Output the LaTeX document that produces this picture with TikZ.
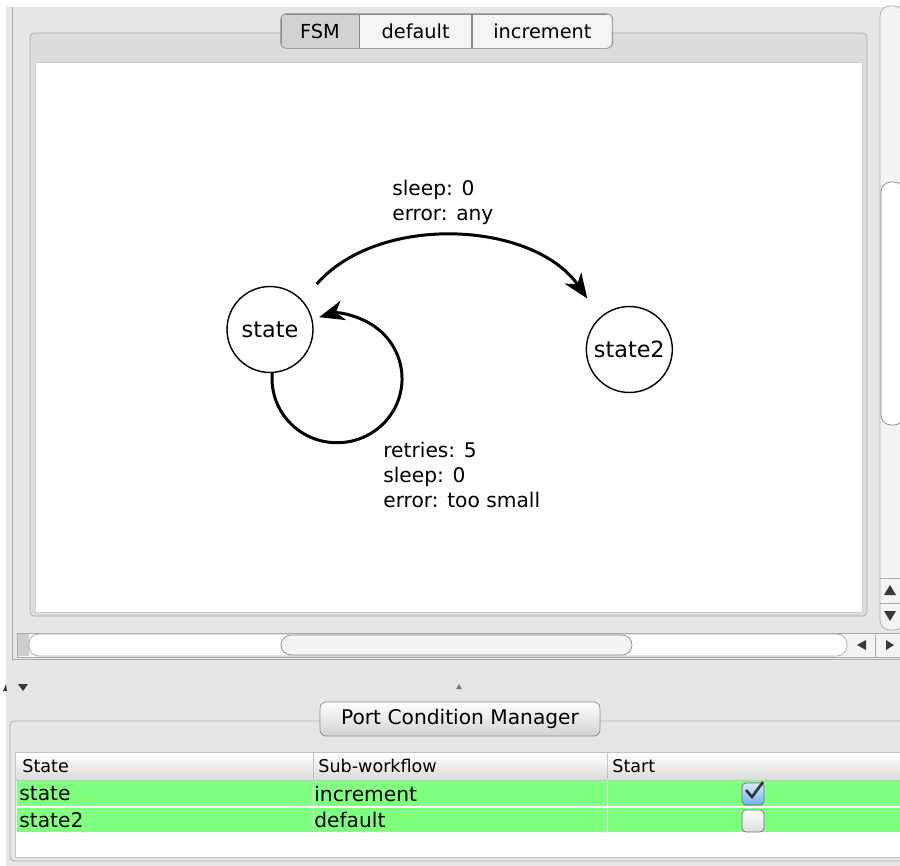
\documentclass[tikz,border=0pt]{standalone}
\usepackage{fontspec}
\setmainfont{DejaVu Sans}
\usetikzlibrary{arrows.meta,positioning,calc}
\definecolor{Win}{HTML}{E6E6E6}
\definecolor{Pane}{HTML}{DCDCDC}
\definecolor{Edge}{HTML}{ABABAB}
\definecolor{TabEdge}{HTML}{8A8A8A}
\definecolor{TabFill}{HTML}{F4F4F4}
\definecolor{TabSel}{HTML}{D2D2D2}
\definecolor{Track}{HTML}{F3F3F3}
\definecolor{ArrowInk}{HTML}{3A3A3A}
\definecolor{RowGreen}{HTML}{80FF80}
\definecolor{BoxEdge}{HTML}{6E6E6E}
\definecolor{CheckTop}{HTML}{D6ECFF}
\definecolor{CheckBot}{HTML}{6FB2EE}

\begin{document}
\begin{tikzpicture}[x=0.02cm, y=0.02cm,
    state/.style={draw, circle, fill=white, line width=0.8pt, minimum size=1.72cm, inner sep=0pt, font=\fontsize{12.7}{15}\selectfont},
    trans/.style={-{Stealth[length=0.5cm, width=0.4cm, inset=0.15cm]}, line width=1.7pt},
    lbl/.style={anchor=west, align=left, inner sep=0pt, font=\fontsize{11.5}{14.2}\selectfont},
    tab/.style={draw=TabEdge, fill=TabFill, minimum height=0.68cm, inner sep=0pt, font=\fontsize{11}{13}\selectfont},
    head/.style={anchor=west, inner sep=0pt, font=\fontsize{10}{12}\selectfont},
    cell/.style={anchor=west, inner sep=0pt, font=\fontsize{11.5}{14}\selectfont},
    chk/.style={draw=BoxEdge, rounded corners=0.08cm, minimum size=0.44cm, inner sep=0pt},
    arr/.style={fill=ArrowInk}]
  \useasboundingbox (0,0) rectangle (900,-866);

  % window background
  \fill[white] (0,0) rectangle (900,-866);
  \fill[Win] (6,-7) rectangle (900,-866);
  \draw[Edge] (12,-7) |- (900,-659);

  % upper pane
  \draw[Edge, fill=Pane, rounded corners=0.08cm] (30,-33) rectangle (867,-616);
  \draw[Edge!60, fill=white] (35,-62) rectangle (862,-612);

  % tabs
  \begin{scope}
    \clip[rounded corners=0.12cm] (281,-14) rectangle (611,-48);
    \node[tab, fill=TabSel, minimum width=1.56cm] (fsm) at (320,-31) {FSM};
    \node[tab, minimum width=2.24cm, right=0pt of fsm] (dflt) {default};
    \node[tab, minimum width=2.8cm, right=0pt of dflt] (incr) {increment};
  \end{scope}
  \draw[TabEdge, rounded corners=0.12cm] (fsm.north west) rectangle (incr.south east);

  % fsm
  \node[state] (state) at (270,-329.5) {state};
  \node[state, right=5.44cm of state, yshift=-0.4cm] (state2) {state2};

  \draw[trans, shorten <=0.43cm, shorten >=0.45cm] (state.42) to[bend left=52] (state2.132);
  \draw[trans] (state.273) arc[start angle=175, end angle=466, x radius=65, y radius=64];

  \node[lbl] (goLbl) at (392,-202) {sleep: 0\\error: any};
  \node[lbl] (loopLbl) at (383,-475) {retries: 5\\sleep: 0\\error: too small};

  % scroll bars
  \draw[Edge, fill=Track, rounded corners=0.2cm] (880,-6) rectangle (904,-630);
  \draw[Edge!80!black, fill=white, rounded corners=0.2cm] (881,-182) rectangle (904,-425);
  \draw[Edge] (880,-578) -- (900,-578) (880,-603) -- (900,-603);
  \fill[arr] (884,-595) -- (896,-595) -- (890,-585) -- cycle;
  \fill[arr] (884,-611) -- (896,-611) -- (890,-621) -- cycle;

  \draw[Edge, fill=Track] (17,-633) rectangle (904,-657);
  \fill[Edge!60] (18,-634) rectangle (29,-656);
  \draw[Edge, fill=white, rounded corners=0.2cm] (29,-634) rectangle (847,-656);
  \draw[Edge!80!black, fill=Track, rounded corners=0.2cm] (281,-635) rectangle (632,-655);
  \draw[Edge] (875,-633) -- (875,-657);
  \fill[arr] (857,-645) -- (866,-640) -- (866,-650) -- cycle;
  \fill[arr] (894,-645) -- (886,-640) -- (886,-650) -- cycle;

  % splitter marks
  \fill[arr] (3,-691) -- (7,-691) -- (6,-684) -- cycle;
  \fill[arr] (18,-684) -- (28,-684) -- (23,-691) -- cycle;
  \fill[gray] (456,-689) -- (459,-684) -- (462,-689) -- cycle;

  % lower pane
  \draw[Edge, fill=Win, rounded corners=0.08cm] (10,-721) rectangle (905,-861);
  \node[draw=TabEdge, rounded corners=0.12cm, top color=white, bottom color=TabSel,
        minimum width=5.6cm, minimum height=0.68cm, inner sep=0pt,
        font=\fontsize{11.5}{14}\selectfont] (pcm) at (460,-719) {Port Condition Manager};

  % table
  \draw[Edge!70, fill=white] (15,-752) rectangle (904,-857);
  \shade[top color=white, bottom color=Pane] (16,-753) rectangle (900,-779);
  \draw[Edge!70] (16,-780) -- (900,-780);
  \draw[Edge!70] (313,-753) -- (313,-779) (607,-753) -- (607,-779);
  \fill[RowGreen] (17,-781) rectangle (900,-806);
  \fill[RowGreen] (17,-808) rectangle (900,-832);
  \draw[white] (313,-781) -- (313,-832) (607,-781) -- (607,-832);

  \node[head] (hState) at (22,-766) {State};
  \node[head] (hSub) at (318,-766) {Sub-workflow};
  \node[head] (hStart) at (612,-766) {Start};

  \node[cell] (cState) at (19,-794) {state};
  \node[cell] (cSub) at (314,-794) {increment};
  \node[cell] (cState2) at (19,-820) {state2};
  \node[cell] (cSub2) at (314,-820) {default};

  \node[chk, top color=CheckTop, bottom color=CheckBot] (chk1) at (753,-794) {};
  \draw[line width=1.5pt, black!80] ($(chk1)+(-7,4)$) -- ($(chk1)+(-1,-3)$) -- ($(chk1)+(10,12)$);
  \node[chk, top color=white, bottom color=Pane] (chk2) at (753,-821) {};
\end{tikzpicture}
\end{document}
